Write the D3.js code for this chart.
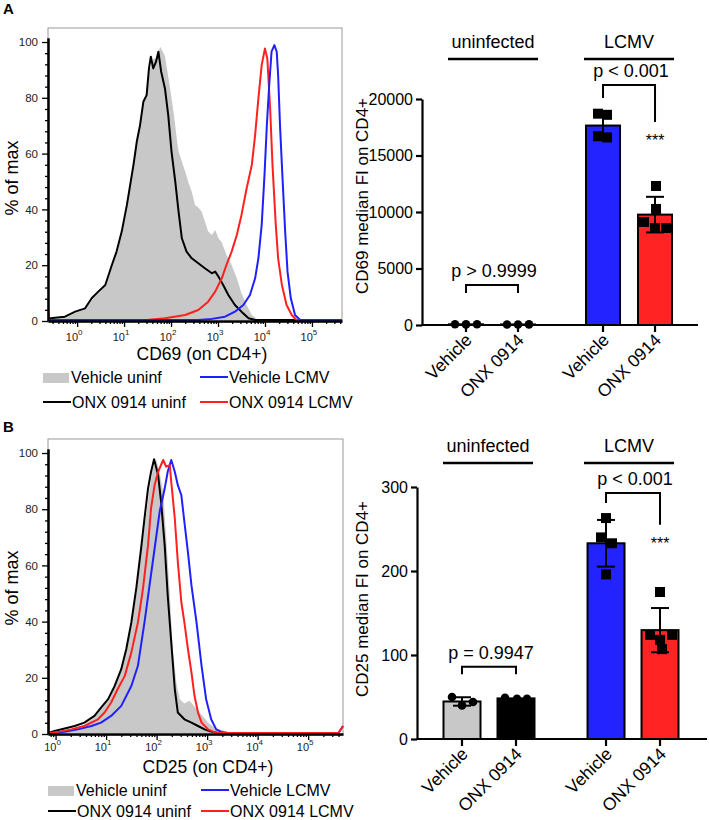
<!DOCTYPE html>
<html>
<head>
<meta charset="utf-8">
<script src="https://cdn.jsdelivr.net/npm/d3@7"></script>
<style>
  body { margin: 0; background: #fff; }
  text { font-family: "Liberation Sans", Arial, sans-serif; }
</style>
</head>
<body>
<script>
// ---- histogram data, [log10 fluorescence, % of max] ----
const cd69VehUninf = [[-0.62,0],[-0.26,0.8],[-0.04,2.5],[0.17,4],[0.31,7],[0.47,10.2],[0.62,12.6],[0.76,19.8],[0.86,24.6],[0.97,31.8],[1.07,41.4],[1.14,48.6],[1.2,56],[1.27,64],[1.34,70.1],[1.41,78],[1.48,81],[1.55,90],[1.62,94],[1.68,94],[1.77,98.3],[1.87,95],[1.98,83.3],[2.06,74],[2.13,64],[2.16,60.6],[2.23,57],[2.3,53.4],[2.37,49.5],[2.44,46.2],[2.51,41.4],[2.58,40.5],[2.65,39],[2.72,35.4],[2.79,31.8],[2.87,30.6],[2.94,32.4],[3.01,29.4],[3.08,28],[3.18,23.4],[3.29,19.8],[3.4,15],[3.5,9.6],[3.61,5.4],[3.72,1.8],[3.86,0]];
const cd69OnxUninf = [[-0.62,0.3],[-0.57,0.6],[-0.26,1.2],[-0.04,3.0],[0.17,4.2],[0.31,7.8],[0.45,10.2],[0.6,12.6],[0.74,19.8],[0.84,24.6],[0.95,31.8],[1.06,41.4],[1.13,48.6],[1.2,55.8],[1.27,64.1],[1.34,70.1],[1.41,78.5],[1.48,80.9],[1.53,90.5],[1.57,94.7],[1.62,90.5],[1.68,92.9],[1.73,96.5],[1.79,89.3],[1.87,83.3],[1.94,73.7],[2.01,60.6],[2.09,49.8],[2.16,39.0],[2.23,29.4],[2.33,24.6],[2.44,22.2],[2.58,20.4],[2.72,18.6],[2.87,16.8],[2.94,17.4],[3.01,15.6],[3.11,12.6],[3.22,9.0],[3.36,5.4],[3.5,3.0],[3.65,0.6],[3.79,0],[5.64,0]];
const cd69VehLcmv = [[-0.62,0],[2.58,0],[2.87,0.4],[3.15,1.2],[3.36,3.0],[3.54,5.4],[3.68,9.0],[3.79,15.0],[3.86,22.2],[3.93,34.2],[3.99,52.2],[4.04,70.1],[4.09,84.5],[4.14,96.5],[4.2,98.9],[4.25,96.5],[4.28,88.1],[4.32,70.1],[4.37,52.2],[4.43,31.8],[4.48,17.4],[4.55,7.8],[4.64,1.8],[4.75,0],[5.64,0]];
const cd69OnxLcmv = [[-0.62,5.5],[-0.6,0],[1.48,0],[1.87,0.6],[2.3,1.8],[2.58,3.6],[2.79,6.6],[2.94,10.2],[3.08,15],[3.18,19.8],[3.29,24.6],[3.4,30.6],[3.5,37.8],[3.61,47.4],[3.72,55.8],[3.79,66.5],[3.86,79.7],[3.93,91.7],[4.0,97.7],[4.05,94],[4.11,76.1],[4.16,55.8],[4.23,34.2],[4.28,22.2],[4.36,12.6],[4.46,5.4],[4.57,1.8],[4.67,0],[5.64,0]];

const cd25VehUninf = [[-0.15,0],[0.04,0.5],[0.3,1.3],[0.57,3],[0.77,5.5],[0.9,8.5],[1.04,11.5],[1.17,16],[1.3,22],[1.4,29],[1.5,38],[1.6,50],[1.7,65],[1.78,76],[1.85,86],[1.92,94],[1.99,97.8],[2.06,93],[2.13,86],[2.19,70],[2.26,50],[2.32,30],[2.39,18],[2.46,12],[2.55,10.5],[2.65,11.5],[2.75,9.5],[2.89,6.5],[3.02,3.7],[3.15,1.9],[3.35,0.7],[3.48,0]];
const cd25OnxUninf = [[-0.15,0],[-0.02,0.7],[0.18,1.6],[0.38,2.5],[0.57,3.7],[0.77,6.1],[0.9,9.1],[1.04,12.1],[1.17,16.8],[1.3,22.8],[1.4,30.0],[1.5,39.5],[1.6,52],[1.7,67],[1.76,76.6],[1.83,87.3],[1.89,93.3],[1.95,97.8],[2.03,92.1],[2.09,82.4],[2.16,67],[2.22,49.1],[2.29,32.4],[2.36,15.7],[2.42,7.3],[2.55,4.9],[2.69,3.7],[2.82,2.5],[2.95,1.3],[3.08,0.5],[3.21,0]];
const cd25VehLcmv = [[-0.15,0],[-0.02,0],[0.18,0.4],[0.44,1.3],[0.71,2.5],[0.9,3.7],[1.1,6.1],[1.3,9.7],[1.5,16.8],[1.63,24],[1.76,39.5],[1.86,52.7],[1.96,65.8],[2.06,79],[2.16,87.3],[2.22,93.3],[2.29,97.5],[2.36,93.3],[2.42,88.5],[2.49,84.9],[2.55,75.4],[2.62,64.6],[2.69,52.7],[2.79,39.5],[2.89,24],[2.98,12.1],[3.08,4.9],[3.18,1.3],[3.28,0.4],[3.41,0],[5.6,0],[5.69,2.5]];
const cd25OnxLcmv = [[-0.15,101],[-0.14,0],[0.05,0.4],[0.31,1.3],[0.57,2.5],[0.84,4.9],[0.97,7.3],[1.1,10.9],[1.23,15.7],[1.37,20.4],[1.5,28.8],[1.63,39.5],[1.73,51.5],[1.83,67],[1.89,80.2],[1.96,88.5],[2.03,93.3],[2.13,97.5],[2.19,95.1],[2.26,95.7],[2.29,89.7],[2.36,76.6],[2.42,61.1],[2.49,46.7],[2.55,39.5],[2.62,30],[2.69,21.6],[2.75,13.3],[2.82,7.3],[2.89,3.7],[3.02,1.3],[3.15,0.2],[3.28,0],[5.6,0],[5.69,2.5]];

const histLegend = ["Vehicle uninf", "Vehicle LCMV", "ONX 0914 uninf", "ONX 0914 LCMV"];

// ---- bar chart data (median FI per mouse) ----
const catLabels = ["Vehicle", "ONX 0914", "Vehicle", "ONX 0914"];
const groupNames = ["uninfected", "LCMV"];
const cd69Points = [[60, 55, 70], [50, 45, 55], [18700, 18600, 16700, 16600], [12300, 10270, 9115, 8580, 8580]];
const cd25Points = [[50, 40, 44], [49, 48, 48], [263, 240, 233, 196], [175, 124, 118, 124, 107]];
const cd69Ticks = [0, 5000, 10000, 15000, 20000];
const cd25Ticks = [0, 100, 200, 300];
const pValuesA = ["p > 0.9999", "p < 0.001"];
const pValuesB = ["p = 0.9947", "p < 0.001"];

const barColors = ["#c8c8c8", "#000000", "#2323ff", "#ff2323"];
const BLUE = "#2020ff", RED = "#ff2020", GRAY = "#c8c8c8";

const svg = d3.select("body").append("svg").attr("width", 709).attr("height", 820);

// panel letters
svg.append("text").attr("x", 3).attr("y", 14).attr("font-size", 15).attr("font-weight", "bold").text("A");
svg.append("text").attr("x", 3).attr("y", 432).attr("font-size", 15).attr("font-weight", "bold").text("B");

function drawHist(cfg) {
  const x = d3.scaleLinear().domain(cfg.xDom).range([cfg.left, cfg.right]);
  const y = d3.scaleLinear().domain([0, 100]).range([cfg.y0, cfg.y100]);
  const g = svg.append("g");

  const clipId = "clip" + cfg.id;
  svg.append("clipPath").attr("id", clipId).append("rect")
    .attr("x", cfg.left).attr("y", cfg.top - 4).attr("width", cfg.right - cfg.left + 1).attr("height", cfg.y0 - cfg.top + 6);

  // frame
  g.append("rect").attr("x", cfg.left).attr("y", cfg.top)
    .attr("width", cfg.right - cfg.left).attr("height", cfg.y0 + 2 - cfg.top)
    .attr("fill", "none").attr("stroke", "#999").attr("stroke-width", 1);

  const plot = g.append("g").attr("clip-path", "url(#" + clipId + ")");
  plot.append("path").datum(cfg.fill)
    .attr("d", d3.area().x(d => x(d[0])).y0(y(0)).y1(d => y(d[1])))
    .attr("fill", GRAY);
  cfg.lines.forEach(l => {
    plot.append("path").datum(l.data)
      .attr("d", d3.line().x(d => x(d[0])).y(d => y(d[1])))
      .attr("fill", "none").attr("stroke", l.color).attr("stroke-width", 2)
      .attr("stroke-linejoin", "round");
  });

  // y axis
  const yAx = y.copy().domain([0, 101.5]).range([cfg.y0 + 1, y(101.5)]);
  const ya = g.append("g").attr("transform", `translate(${cfg.left},0)`)
    .call(d3.axisLeft(yAx).tickValues([0, 20, 40, 60, 80, 100]).tickSize(6).tickSizeOuter(0).tickPadding(4));
  g.append("g").attr("transform", `translate(${cfg.left},0)`)
    .call(d3.axisLeft(yAx).tickValues(d3.range(4, 101, 4).filter(v => v % 20)).tickSize(3).tickFormat(""))
    .select(".domain").remove();
  ya.select(".domain").attr("stroke-width", 2.5);

  // x axis (log decades)
  const xAx = g.append("g").attr("transform", `translate(0,${cfg.y0 + 1})`)
    .call(d3.axisBottom(x).tickValues(d3.range(0, 6)).tickSize(6).tickSizeOuter(0).tickFormat(""));
  xAx.select(".domain").attr("stroke-width", 2.5);
  const minor = [];
  for (let dec = -1; dec <= 5; dec++) for (let m = 2; m <= 9; m++) {
    const v = dec + Math.log10(m);
    if (v > cfg.xDom[0] && v < cfg.xDom[1]) minor.push(v);
  }
  g.append("g").attr("transform", `translate(0,${cfg.y0 + 1})`)
    .call(d3.axisBottom(x).tickValues(minor).tickSize(3).tickFormat(""))
    .select(".domain").remove();
  g.selectAll(".tick line").attr("stroke-width", 1.3);
  g.selectAll(".tick text").attr("font-size", 11.5).attr("fill", "#222").attr("font-family", "Liberation Sans, Arial, sans-serif");

  const lab = g.selectAll("text.dec").data(d3.range(0, 6)).enter().append("text")
    .attr("class", "dec").attr("x", d => x(d) - 3).attr("y", cfg.y0 + cfg.tickDy)
    .attr("text-anchor", "middle").attr("font-size", 11).attr("fill", "#222");
  lab.append("tspan").text("10");
  lab.append("tspan").attr("dy", -6).attr("font-size", 8).text(d => d);

  g.append("text").attr("x", cfg.titleX).attr("y", cfg.y0 + cfg.titleDy).attr("text-anchor", "middle")
    .attr("font-size", 17.5).text(cfg.title);
  g.append("text").attr("transform", `translate(18,${cfg.yTitleY}) rotate(-90)`)
    .attr("text-anchor", "middle").attr("font-size", 18).text("% of max");

  // legend
  const L = cfg.legend;
  g.append("rect").attr("x", L.x0).attr("y", L.y1 - 10).attr("width", 26).attr("height", 10).attr("fill", GRAY);
  const legItems = [
    { x: L.x1, y: L.y1, color: BLUE, label: histLegend[1] },
    { x: L.x0, y: L.y2, color: "#000", label: histLegend[2] },
    { x: L.x1, y: L.y2, color: RED, label: histLegend[3] }
  ];
  legItems.forEach(it => {
    g.append("line").attr("x1", it.x).attr("x2", it.x + 28).attr("y1", it.y - 6).attr("y2", it.y - 6)
      .attr("stroke", it.color).attr("stroke-width", 2);
  });
  g.append("text").attr("x", L.x0 + 28).attr("y", L.y1).attr("font-size", 16).text(histLegend[0]);
  legItems.forEach(it => {
    g.append("text").attr("x", it.x + 29).attr("y", it.y).attr("font-size", 16).text(it.label);
  });
}

drawHist({
  id: "A", xDom: [-0.62, 5.64], left: 48, right: 342, top: 28, y0: 320, y100: 42,
  fill: cd69VehUninf,
  lines: [{ data: cd69OnxUninf, color: "#000" }, { data: cd69OnxLcmv, color: RED }, { data: cd69VehLcmv, color: BLUE }],
  title: "CD69 (on CD4+)", titleX: 202, yTitleY: 178, tickDy: 21, titleDy: 40,
  legend: { x0: 43, x1: 200, y1: 383, y2: 408 }
});
drawHist({
  id: "B", xDom: [-0.15, 5.69], left: 48, right: 343, top: 439, y0: 733, y100: 453,
  fill: cd25VehUninf,
  lines: [{ data: cd25OnxUninf, color: "#000" }, { data: cd25VehLcmv, color: BLUE }, { data: cd25OnxLcmv, color: RED }],
  title: "CD25 (on CD4+)", titleX: 208, yTitleY: 588, tickDy: 18, titleDy: 40,
  legend: { x0: 48, x1: 201, y1: 796, y2: 817 }
});

function drawBars(cfg) {
  const slots = [0, 1, cfg.gap, cfg.gap + 1];
  const xs = d3.scaleLinear().domain([0, 1]).range([cfg.c0, cfg.c1]);
  const y = d3.scaleLinear().domain([0, cfg.ticks[cfg.ticks.length - 1]]).range([cfg.base, cfg.topY]);
  const g = svg.append("g");
  const stats = cfg.points.map(p => ({ mean: d3.mean(p), sd: d3.deviation(p) }));

  // bars
  g.selectAll("rect.bar").data(stats).enter().append("rect")
    .attr("x", (d, i) => xs(slots[i]) - cfg.bw / 2).attr("width", cfg.bw)
    .attr("y", d => y(d.mean)).attr("height", d => cfg.base - y(d.mean))
    .attr("fill", (d, i) => barColors[i]).attr("stroke", "#000").attr("stroke-width", 2);

  // points
  cfg.points.forEach((pts, i) => {
    const jit = cfg.jitter[i];
    pts.forEach((v, j) => {
      const cx = xs(slots[i]) + jit[j], cy = y(v);
      if (i < 2) g.append("circle").attr("cx", cx).attr("cy", cy).attr("r", 4.3).attr("fill", "#000");
      else g.append("rect").attr("x", cx - 5).attr("y", cy - 5).attr("width", 10).attr("height", 10).attr("fill", "#000");
    });
  });

  // error bars (mean ± SD)
  stats.forEach((d, i) => {
    if (d.sd * (cfg.base - cfg.topY) / cfg.ticks[cfg.ticks.length - 1] < 2) return;
    const cx = xs(slots[i]);
    const col = i === 1 ? "#fff" : "#000";
    g.append("line").attr("x1", cx).attr("x2", cx).attr("y1", y(d.mean - d.sd)).attr("y2", y(d.mean + d.sd))
      .attr("stroke", col).attr("stroke-width", 2);
    [d.mean - d.sd, d.mean + d.sd].forEach(v => {
      g.append("line").attr("x1", cx - 9).attr("x2", cx + 9).attr("y1", y(v)).attr("y2", y(v))
        .attr("stroke", col).attr("stroke-width", 2);
    });
  });

  // axes
  const ya = g.append("g").attr("transform", `translate(${cfg.axisX},0)`)
    .call(d3.axisLeft(y).tickValues(cfg.ticks).tickSize(6).tickSizeOuter(0).tickPadding(3).tickFormat(d3.format("d")));
  ya.select(".domain").attr("stroke-width", 2.2);
  ya.selectAll(".tick line").attr("stroke-width", 2.2);
  ya.selectAll(".tick text").attr("font-size", 16).attr("fill", "#000").attr("font-family", "Liberation Sans, Arial, sans-serif");

  g.append("line").attr("x1", cfg.axisX).attr("x2", cfg.xEnd).attr("y1", cfg.base).attr("y2", cfg.base)
    .attr("stroke", "#000").attr("stroke-width", 2.2);
  slots.forEach((s, i) => {
    const cx = xs(s);
    g.append("line").attr("x1", cx).attr("x2", cx).attr("y1", cfg.base).attr("y2", cfg.base + 7)
      .attr("stroke", "#000").attr("stroke-width", 2.2);
    g.append("text").attr("transform", `translate(${cx + 7},${cfg.base + 16}) rotate(-45)`)
      .attr("text-anchor", "end").attr("font-size", 17.5).text(catLabels[i]);
  });

  g.append("text").attr("transform", `translate(368,${cfg.titleY}) rotate(-90)`)
    .attr("text-anchor", "middle").attr("font-size", 17).text(cfg.title);

  // group headers
  [0, 1].forEach(k => {
    const mid = (xs(slots[2 * k]) + xs(slots[2 * k + 1])) / 2 + cfg.hdrShift[k];
    g.append("text").attr("x", mid).attr("y", cfg.hdrY).attr("text-anchor", "middle").attr("font-size", 18).text(groupNames[k]);
    g.append("line").attr("x1", mid - 45).attr("x2", mid + 45).attr("y1", cfg.hdrY + 11).attr("y2", cfg.hdrY + 11)
      .attr("stroke", "#000").attr("stroke-width", 2.5);
  });

  // significance brackets
  cfg.brackets.forEach((b, k) => {
    const xa = xs(slots[2 * k]), xb = xs(slots[2 * k + 1]);
    const yt = y(b.top);
    g.append("path").attr("d", `M${xa},${y(b.l)}V${yt}H${xb}V${y(b.r)}`)
      .attr("fill", "none").attr("stroke", "#000").attr("stroke-width", 2);
    g.append("text").attr("x", (xa + xb) / 2 + 2).attr("y", yt - 8).attr("text-anchor", "middle")
      .attr("font-size", 18).text(cfg.pvals[k]);
    if (b.stars) g.append("text").attr("x", xb).attr("y", y(b.r) + 24).attr("text-anchor", "middle")
      .attr("font-size", 16).text("***");
  });
}

drawBars({
  points: cd69Points, ticks: cd69Ticks, c0: 466, c1: 518, gap: 2.635, bw: 34,
  base: 325, topY: 99, axisX: 422, xEnd: 698,
  jitter: [[-11, 0, 11], [-11, 0, 11], [-5, 4, -5, 4], [1, 1, -11, 0, 11]],
  title: "CD69 median FI on CD4+", titleY: 196, hdrY: 48, hdrShift: [1, 0],
  brackets: [{ top: 3540, l: 2830, r: 2830 }, { top: 21240, l: 20090, r: 17960, stars: true }],
  pvals: pValuesA
});
drawBars({
  points: cd25Points, ticks: cd25Ticks, c0: 462, c1: 516, gap: 2.667, bw: 37,
  base: 739, topY: 487, axisX: 417, xEnd: 707,
  jitter: [[-10, 0, 11], [-11, 1, 11], [0, -5, 6, 0], [0, -10, 0, 12, 2]],
  title: "CD25 median FI on CD4+", titleY: 599, hdrY: 452, hdrShift: [-1, -4],
  brackets: [{ top: 86, l: 77, r: 77 }, { top: 293, l: 281, r: 255, stars: true }],
  pvals: pValuesB
});
</script>
</body>
</html>
